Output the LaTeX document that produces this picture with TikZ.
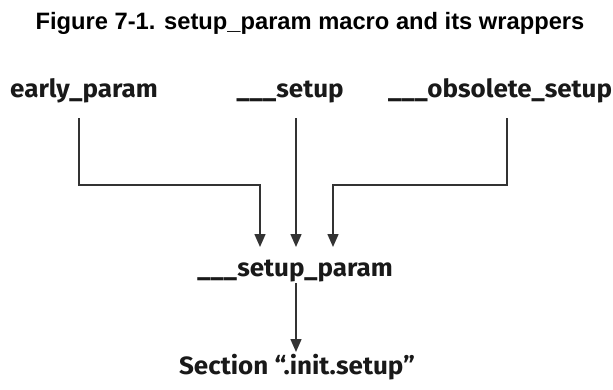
\documentclass[tikz,border=0pt]{standalone}
\usepackage{fontspec}
\setmainfont{Liberation Sans}
\newfontfamily\labfont[FakeStretch=1.04]{Fira Sans}
\usetikzlibrary{arrows.meta,calc}
\tikzset{
  lab/.style={font=\labfont\bfseries\fontsize{25}{29}\selectfont, inner sep=0pt, anchor=base, text=black!90},
  ttl/.style={font=\bfseries\fontsize{23.7}{28}\selectfont, inner sep=0pt, anchor=base},
  conn/.style={line width=1.5pt, draw=black!80},
  arr/.style={conn, -{Triangle[width=11pt,length=13pt]}},
}
\begin{document}
\begin{tikzpicture}[x=1pt,y=-1pt]
\useasboundingbox (0,0) rectangle (613,389);
\node[ttl] (title) at (310,29) {Figure 7-1. setup\_param macro and its wrappers};
\node[lab] (early) at (84,97) {early\_param};
\node[lab] (setup) at (290,97) {\_\_\_setup};
\node[lab] (obs) at (500,97) {\_\_\_obsolete\_setup};
\node[lab] (sp) at (295,276) {\_\_\_setup\_param};
\node[lab] (sec) at (297,374) {Section “.init.setup”};
\draw[arr] ($(early.base)+(-5,21)$) |- ($(sp.base)+(-35,-91)$) -- ($(sp.base)+(-35,-29)$);
\draw[arr] ($(setup.base)+(6,21)$) -- ($(sp.base)+(1,-29)$);
\draw[arr] ($(obs.base)+(7,21)$) |- ($(sp.base)+(38,-91)$) -- ($(sp.base)+(38,-29)$);
\draw[arr] ($(sp.base)+(1,7)$) -- ($(sec.base)+(-1,-22)$);
\end{tikzpicture}
\end{document}
